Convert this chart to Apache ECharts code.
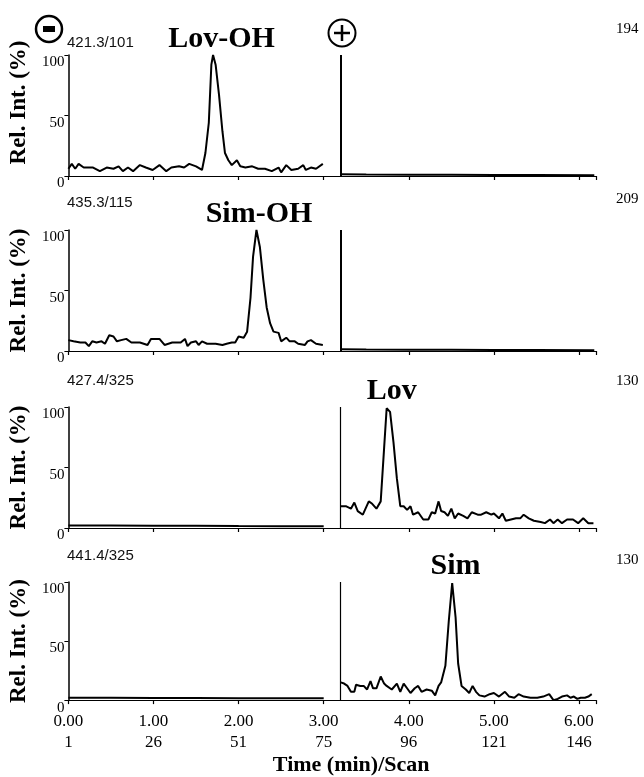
<!DOCTYPE html>
<html>
<head>
<meta charset="utf-8">
<script src="https://cdn.jsdelivr.net/npm/echarts@6/dist/echarts.min.js"></script>
<style>
    html, body { margin: 0; padding: 0; background: #fff; }
    #chart { width: 644px; height: 777px; }
</style>
</head>
<body>
<div id="chart"></div>
<script>
// tick labels of the shared time / scan axis
var timeTicks = ["0.00", "1.00", "2.00", "3.00", "4.00", "5.00", "6.00"];
var scanTicks = ["1", "26", "51", "75", "96", "121", "146"];

// panel texts
var transitions = ["421.3/101", "435.3/115", "427.4/325", "441.4/325"];
var compounds = ["Lov-OH", "Sim-OH", "Lov", "Sim"];
var maxCounts = ["194", "209", "130", "130"];
var labelTimes = [1.80, 2.24, 3.80, 4.55]; // where the compound name sits (min)
var switchTime = 3.2; // polarity switch (-) -> (+)

// [time (min), rel. int. (%)]
var lovOhNeg = [[0.00, 6], [0.04, 10], [0.08, 6], [0.12, 10], [0.18, 7], [0.29, 7], [0.37, 4], [0.45, 7], [0.53, 6], [0.59, 8], [0.64, 4], [0.70, 7], [0.76, 4], [0.84, 9], [0.91, 7], [0.99, 5], [1.07, 9], [1.15, 4], [1.21, 7], [1.30, 8], [1.36, 7], [1.42, 10], [1.50, 8], [1.57, 5], [1.61, 19], [1.65, 44], [1.68, 92], [1.70, 100], [1.73, 92], [1.77, 67], [1.81, 37], [1.84, 19], [1.88, 13], [1.92, 9], [1.98, 13], [2.02, 8], [2.08, 7], [2.16, 8], [2.23, 6], [2.31, 6], [2.39, 4], [2.47, 7], [2.50, 3], [2.56, 9], [2.62, 5], [2.70, 6], [2.76, 9], [2.79, 5], [2.85, 7], [2.91, 6], [2.99, 10]];
var lovOhPos = [[3.20, 1.5], [3.50, 1.2], [4.00, 1.0], [4.50, 1.0], [5.00, 0.8], [5.50, 0.8], [6.18, 0.6]];

var simOhNeg = [[0.00, 9], [0.06, 8], [0.14, 7], [0.20, 7], [0.24, 4], [0.28, 8], [0.33, 7], [0.39, 8], [0.43, 6], [0.48, 13], [0.53, 12], [0.57, 8], [0.62, 9], [0.68, 10], [0.74, 7], [0.84, 7], [0.93, 5], [0.97, 10], [1.07, 10], [1.13, 5], [1.22, 7], [1.32, 7], [1.37, 10], [1.40, 4], [1.44, 7], [1.50, 8], [1.53, 5], [1.57, 8], [1.63, 6], [1.73, 6], [1.81, 5], [1.86, 6], [1.92, 7], [1.96, 7], [2.00, 12], [2.06, 11], [2.10, 16], [2.14, 44], [2.17, 78], [2.21, 100], [2.25, 86], [2.29, 59], [2.33, 36], [2.37, 23], [2.41, 16], [2.47, 15], [2.50, 8], [2.56, 11], [2.60, 8], [2.66, 8], [2.70, 6], [2.78, 5], [2.81, 8], [2.85, 9], [2.91, 6], [2.99, 5]];
var simOhPos = [[3.20, 1.5], [3.50, 1.2], [4.00, 1.0], [4.50, 1.0], [5.00, 0.8], [5.50, 0.8], [6.18, 0.6]];

var lovNeg = [[0.00, 2], [0.50, 2], [1.00, 1.8], [1.50, 1.8], [2.00, 1.6], [2.50, 1.5], [3.00, 1.5]];
var lovPos = [[3.20, 18], [3.26, 18], [3.32, 16], [3.36, 21], [3.40, 14], [3.46, 11], [3.53, 22], [3.57, 20], [3.62, 16], [3.67, 22], [3.71, 66], [3.74, 99], [3.78, 96], [3.82, 71], [3.86, 41], [3.90, 18], [3.94, 18], [3.98, 15], [4.02, 18], [4.05, 11], [4.11, 13], [4.17, 7], [4.23, 7], [4.27, 13], [4.31, 12], [4.35, 22], [4.38, 14], [4.42, 13], [4.46, 10], [4.50, 16], [4.54, 8], [4.58, 12], [4.64, 10], [4.69, 8], [4.74, 13], [4.81, 11], [4.85, 11], [4.91, 13], [4.97, 11], [5.00, 12], [5.06, 8], [5.10, 12], [5.14, 6], [5.20, 7], [5.26, 8], [5.31, 8], [5.35, 11], [5.41, 8], [5.47, 6], [5.55, 5], [5.60, 4], [5.66, 7], [5.70, 4], [5.75, 7], [5.80, 4], [5.86, 7], [5.93, 7], [5.99, 4], [6.05, 8], [6.11, 4], [6.17, 4]];

var simNeg = [[0.00, 2], [0.50, 2], [1.00, 1.8], [1.50, 1.8], [2.00, 1.6], [2.50, 1.5], [3.00, 1.5]];
var simPos = [[3.20, 15], [3.24, 14], [3.28, 12], [3.32, 7], [3.36, 7], [3.38, 13], [3.43, 12], [3.47, 12], [3.51, 9], [3.55, 16], [3.58, 10], [3.62, 10], [3.67, 20], [3.71, 14], [3.74, 12], [3.80, 9], [3.86, 14], [3.90, 7], [3.94, 14], [3.98, 10], [4.02, 6], [4.07, 10], [4.11, 12], [4.15, 7], [4.21, 9], [4.27, 8], [4.31, 4], [4.35, 12], [4.38, 15], [4.43, 29], [4.47, 67], [4.51, 99], [4.55, 70], [4.58, 31], [4.62, 12], [4.67, 9], [4.71, 6], [4.75, 12], [4.79, 7], [4.83, 4], [4.89, 3], [4.95, 5], [5.00, 6], [5.06, 3], [5.13, 7], [5.18, 3], [5.24, 2], [5.29, 5], [5.35, 3], [5.43, 2], [5.51, 2], [5.58, 3], [5.65, 5], [5.70, 0], [5.75, 1], [5.80, 3], [5.86, 4], [5.90, 2], [5.94, 3], [5.98, 1], [6.02, 2], [6.07, 2], [6.11, 3], [6.15, 5]];

(function() {
    var serif = "'Liberation Serif', 'DejaVu Serif', serif";
    var negData = [lovOhNeg, simOhNeg, lovNeg, simNeg];
    var posData = [lovOhPos, simOhPos, lovPos, simPos];
    var panelTops = [55, 230, 407, 582];
    var transY = [43, 203, 381, 556];
    var countY = [29, 199, 381, 560];
    var switchWidth = [2, 2, 1.2, 1.2];
    var namePad = [[0, 0, 0, 26], 0, 0, 0]; // first y name sits a bit higher

    var myChart = echarts.init(document.getElementById("chart"));
    var grid = [], xAxis = [], yAxis = [], series = [];
    var graphic = [
        { type: "circle", shape: { cx: 49, cy: 29, r: 13 }, style: { fill: "none", stroke: "#000", lineWidth: 2.5 } },
        { type: "rect", shape: { x: 43, y: 26, width: 12, height: 6 }, style: { fill: "#000" } },
        { type: "circle", shape: { cx: 342, cy: 33, r: 13.5 }, style: { fill: "none", stroke: "#000", lineWidth: 2 } },
        { type: "line", shape: { x1: 334, y1: 33, x2: 350, y2: 33 }, style: { stroke: "#000", lineWidth: 2.5 } },
        { type: "line", shape: { x1: 342, y1: 25, x2: 342, y2: 41 }, style: { stroke: "#000", lineWidth: 2.5 } }
    ];

    for (var i = 0; i < 4; i++) {
        var last = i === 3;
        grid.push({ left: 63, top: panelTops[i], width: 533, height: 121 });
        xAxis.push({
            type: "value",
            gridIndex: i,
            min: 0,
            max: 6.2,
            interval: 1,
            name: last ? "Time (min)/Scan" : "",
            nameLocation: "middle",
            nameGap: 50,
            nameTextStyle: { fontFamily: serif, fontWeight: "bold", fontSize: 22, color: "#000", padding: [0, 0, 0, 38] },
            axisLine: { lineStyle: { color: "#000", width: 1.2 } },
            axisTick: { length: 4, lineStyle: { color: "#000", width: 1.2 } },
            axisLabel: {
                show: last,
                margin: 11,
                fontFamily: serif,
                fontSize: 17,
                lineHeight: 21,
                color: "#000",
                formatter: function(v) {
                    var k = Math.round(v);
                    if (Math.abs(v - k) > 1e-6 || timeTicks[k] === undefined) return "";
                    return timeTicks[k] + "\n" + scanTicks[k];
                }
            },
            splitLine: { show: false }
        });
        yAxis.push({
            type: "value",
            gridIndex: i,
            min: 0,
            max: 100,
            interval: 50,
            name: "Rel. Int. (%)",
            nameLocation: "middle",
            nameGap: 29,
            nameTextStyle: { fontFamily: serif, fontWeight: "bold", fontSize: 23, color: "#000", padding: namePad[i] },
            axisLine: { show: true, lineStyle: { color: "#000", width: 1.5 } },
            axisTick: { show: true, length: 4, lineStyle: { color: "#000" } },
            axisLabel: { fontFamily: serif, fontSize: 15, color: "#000", margin: 4, verticalAlign: "top" },
            splitLine: { show: false }
        });
        series.push({
            name: transitions[i] + " (-)",
            type: "line",
            xAxisIndex: i,
            yAxisIndex: i,
            data: negData[i],
            showSymbol: false,
            symbol: "none",
            animation: false,
            lineStyle: { color: "#000", width: 2 },
            markPoint: {
                symbol: "circle",
                symbolSize: 1,
                itemStyle: { color: "rgba(0,0,0,0)" },
                label: {
                    show: true,
                    position: "top",
                    distance: 0,
                    formatter: "{b}",
                    fontFamily: serif,
                    fontWeight: "bold",
                    fontSize: 30,
                    color: "#000"
                },
                data: [{ name: compounds[i], coord: [labelTimes[i], 100] }]
            }
        });
        series.push({
            name: transitions[i] + " (+)",
            type: "line",
            xAxisIndex: i,
            yAxisIndex: i,
            data: posData[i],
            showSymbol: false,
            symbol: "none",
            animation: false,
            lineStyle: { color: "#000", width: 2 },
            markLine: {
                silent: true,
                symbol: ["none", "none"],
                label: { show: false },
                lineStyle: { color: "#000", type: "solid", width: switchWidth[i] },
                data: [{ xAxis: switchTime }]
            }
        });
        graphic.push({
            type: "text", x: 67, y: transY[i],
            style: { text: transitions[i], fontFamily: "'Liberation Sans', Arial, sans-serif", fontSize: 15, fill: "#111", verticalAlign: "middle" }
        });
        graphic.push({
            type: "text", x: 616, y: countY[i],
            style: { text: maxCounts[i], fontFamily: serif, fontSize: 15, fill: "#000", verticalAlign: "middle" }
        });
    }

    var option = {
        backgroundColor: "#fff",
        animation: false,
        grid: grid,
        xAxis: xAxis,
        yAxis: yAxis,
        series: series,
        graphic: graphic
    };
    myChart.setOption(option);
    window.addEventListener("resize", function() {
        myChart.resize();
    });
})();
</script>
</body>
</html>
